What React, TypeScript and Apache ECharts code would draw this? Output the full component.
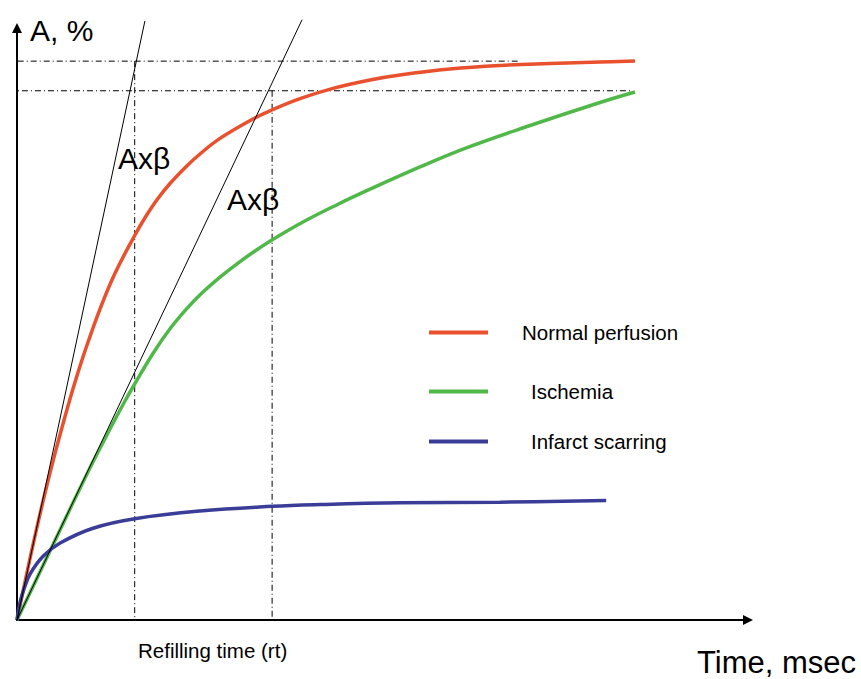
import React, { useEffect, useRef } from "react";
import * as echarts from "echarts";

// Normal perfusion (time, A%)
const normalT = [0, 1.09, 2.46, 3.83, 5.2, 6.57, 7.93, 9.3, 11.35, 13.41, 16.14, 17.51, 19.15, 20.93, 23.26, 25.03, 27.77, 32.28, 34.88, 38.71, 43.23, 48.29, 52.39, 59.23, 66.07, 72.91, 79.75, 84.54];
const normalA = [0, 6.42, 14.19, 21.45, 28.14, 34.38, 40.15, 45.44, 52.53, 58.58, 65.03, 67.94, 70.98, 73.73, 76.74, 78.72, 81.35, 84.63, 86.15, 88.06, 89.8, 91.22, 92.06, 93.07, 93.67, 94.0, 94.26, 94.43];
// Ischemia
const ischT = [0, 4.51, 9.71, 12.72, 14.77, 16.14, 18.6, 20.93, 23.26, 25.44, 27.77, 30.1, 32.56, 34.88, 39.12, 43.78, 48.29, 55.13, 61.56, 70.18, 79.75, 84.54];
const ischA = [0, 11.66, 25.0, 32.26, 36.99, 39.95, 45.02, 49.19, 52.64, 55.39, 57.92, 60.17, 62.33, 64.19, 67.23, 70.15, 72.77, 76.54, 79.8, 83.53, 87.42, 89.19];
// Infarct scarring
const infT = [0, 0.4, 1.0, 1.8, 3.6, 5.9, 10.4, 16.1, 25.0, 34.9, 41.5, 52.4, 66.1, 80.6];
const infA = [0, 2.9, 5.4, 7.8, 10.8, 13.0, 15.5, 17.1, 18.4, 19.2, 19.5, 19.8, 19.9, 20.2];

// Tangent lines (A x beta) end points
const tangentNormalEnd = [17.5, 101.2];
const tangentIschEnd = [39.0, 101.4];

// Refilling times and plateau levels
const rtNormal = 16.1;
const rtIsch = 34.9;
const plateauNormal = 94.4;
const plateauIsch = 89.4;
const plateauNormalSpan = [0.1, 68.5];
const plateauIschSpan = [-1.1, 84.1];

const seriesNames = ["Normal perfusion", "Ischemia", "Infarct scarring"];
const colors = ["#E9502E", "#50B848", "#3A3D98"];

const zip = (a: number[], b: number[]) => a.map((v, i) => [v, b[i]]);

export default function App() {
  const ref = useRef<HTMLDivElement>(null);
  useEffect(() => {
    if (!ref.current) return;
    const chart = echarts.init(ref.current, null, { renderer: "svg" });
    const font = "Liberation Sans, Arial, sans-serif";
    const dash = [6, 3, 1, 3];
    const refLine = (name: string, data: number[][]) => ({
      name,
      type: "line",
      data,
      symbol: "none",
      clip: false,
      silent: true,
      lineStyle: { color: "#000", width: 1, type: dash },
      z: 1,
    });
    const curve = (i: number, t: number[], a: number[]) => ({
      name: seriesNames[i],
      type: "line",
      data: zip(t, a),
      symbol: "none",
      smooth: 0.4,
      clip: false,
      lineStyle: { color: colors[i], width: 3.5 },
      itemStyle: { color: colors[i] },
      z: 3 + i,
    });
    const tangent = (name: string, end: number[]) => ({
      name,
      type: "line",
      data: [[0, 0], end],
      symbol: "none",
      clip: false,
      silent: true,
      lineStyle: { color: "#000", width: 1 },
      z: 6,
    });
    const legendAt = (name: string, top: number, pad: number) => ({
      data: [name],
      left: 429,
      top,
      padding: 0,
      icon: "rect",
      itemWidth: 59,
      itemHeight: 4,
      selectedMode: false,
      textStyle: { fontSize: 20.5, color: "#000", fontFamily: font, padding: [0, 0, 0, pad] },
    });
    chart.setOption({
      animation: false,
      backgroundColor: "#fff",
      textStyle: { fontFamily: font },
      grid: { left: 17, top: 28, right: 113, bottom: 59 },
      xAxis: {
        type: "value",
        min: 0,
        max: 100,
        splitLine: { show: false },
        axisTick: { show: false },
        axisLabel: { show: false },
        axisLine: {
          show: true,
          symbol: ["none", "triangle"],
          symbolSize: [10, 10],
          lineStyle: { color: "#000", width: 2 },
        },
      },
      yAxis: {
        type: "value",
        min: 0,
        max: 100,
        splitLine: { show: false },
        axisTick: { show: false },
        axisLabel: { show: false },
        axisLine: {
          show: true,
          symbol: ["none", "triangle"],
          symbolSize: [10, 10],
          lineStyle: { color: "#000", width: 2 },
        },
      },
      legend: [
        legendAt(seriesNames[0], 322, 29),
        legendAt(seriesNames[1], 381, 38),
        legendAt(seriesNames[2], 431, 38),
      ],
      series: [
        refLine("plateau-normal", [[plateauNormalSpan[0], plateauNormal], [plateauNormalSpan[1], plateauNormal]]),
        refLine("plateau-ischemia", [[plateauIschSpan[0], plateauIsch], [plateauIschSpan[1], plateauIsch]]),
        refLine("rt-normal", [[rtNormal, plateauNormal], [rtNormal, 0]]),
        refLine("rt-ischemia", [[rtIsch, plateauIsch], [rtIsch, 0]]),
        curve(0, normalT, normalA),
        curve(1, ischT, ischA),
        curve(2, infT, infA),
        tangent("tangent-normal", tangentNormalEnd),
        tangent("tangent-ischemia", tangentIschEnd),
      ],
      graphic: [
        { type: "text", x: 30, y: 30, style: { text: "A, %", font: `30px ${font}`, fill: "#000", verticalAlign: "middle" } },
        { type: "text", x: 118, y: 158, style: { text: "Axβ", font: `30px ${font}`, fill: "#000", verticalAlign: "middle" } },
        { type: "text", x: 227, y: 199, style: { text: "Axβ", font: `30px ${font}`, fill: "#000", verticalAlign: "middle" } },
        { type: "text", x: 138, y: 650, style: { text: "Refilling time (rt)", font: `20.5px ${font}`, fill: "#000", verticalAlign: "middle" } },
        { type: "text", x: 697, y: 662, style: { text: "Time, msec", font: `31px ${font}`, fill: "#000", verticalAlign: "middle" } },
      ],
    });
    return () => chart.dispose();
  }, []);
  return <div ref={ref} style={{ position: "fixed", left: 0, top: 0, width: 861, height: 679 }} />;
}
